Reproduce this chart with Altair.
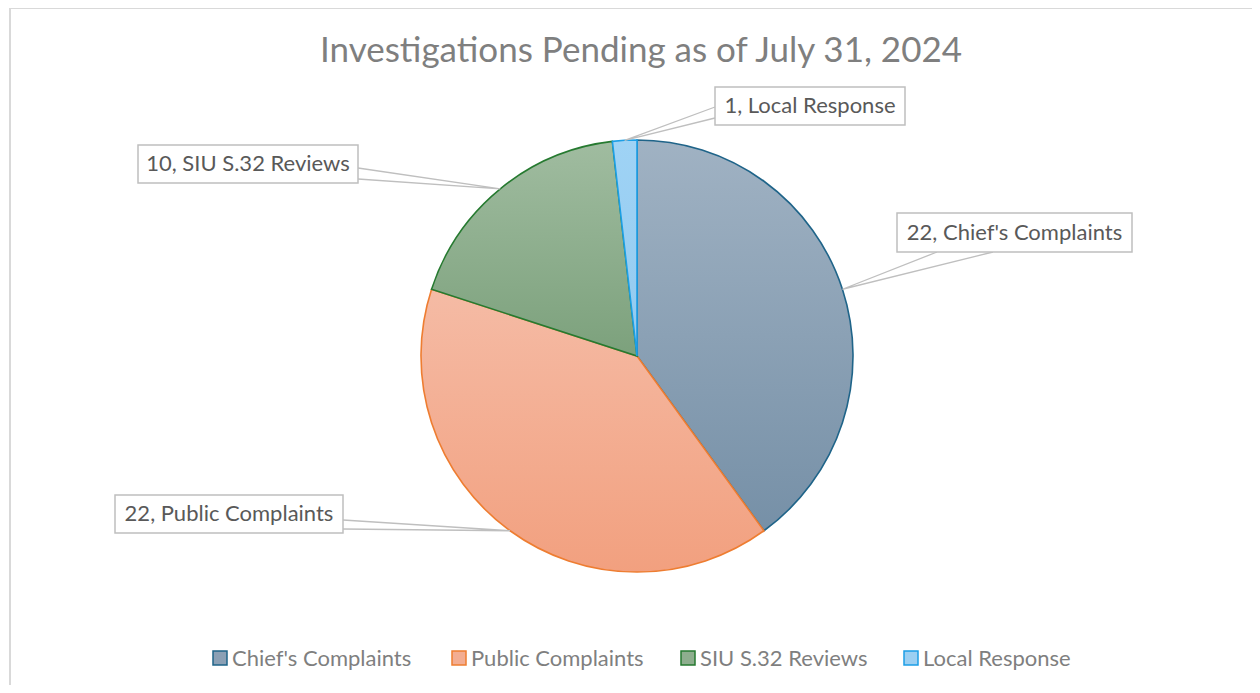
import math
import altair as alt
import pandas as pd

# ---------------- data ----------------
categories = ["Chief's Complaints", "Public Complaints", "SIU S.32 Reviews", "Local Response"]
values = [22, 22, 10, 1]
title_text = "Investigations Pending as of July 31, 2024"

# ---------------- styles / layout ----------------
W, H = 1244, 677            # chart size (page minus 8px margin)
CX, CY, R = 629, 348, 216   # pie centre / radius in chart pixels
FONT = "Lato"
grad_top = ["#a0b2c3", "#f5bba5", "#a0bca0", "#9fd3f5"]
grad_bot = ["#7690a7", "#f2a07f", "#7ca17c", "#93caef"]
strokes = ["#1f6489", "#ee7d31", "#267a30", "#1c9fe6"]
legend_fill = ["#8ba0b5", "#f3ad92", "#8eae8e", "#9bcff2"]

# label boxes (chart px): x0, x1, y0, y1
boxes = {
    "Chief's Complaints": (889, 1124, 205, 244),
    "Public Complaints": (107, 335, 487, 525),
    "SIU S.32 Reviews": (130, 350, 137, 175),
    "Local Response": (707, 897, 79, 117),
}
# tail attach points on the box (chart px), two per label
tails = {
    "Chief's Complaints": [(929, 244), (985, 244)],
    "Public Complaints": [(335, 512), (335, 521)],
    "SIU S.32 Reviews": [(350, 160), (350, 171)],
    "Local Response": [(707, 99), (707, 110)],
}

# ---------------- derived tables ----------------
total = sum(values)
starts, ends, acc = [], [], 0
for v in values:
    starts.append(acc)
    acc += v
    ends.append(acc)
pie_df = pd.DataFrame({"cat": categories, "value": values, "start": starts, "end": ends})

anchors = {}
for c, s, e in zip(categories, starts, ends):
    mid = (s + e) / 2 / total * 2 * math.pi
    anchors[c] = (CX + R * math.sin(mid), CY - R * math.cos(mid))

line_rows, box_rows, text_rows = [], [], []
for c, v in zip(categories, values):
    (a1, a2) = tails[c]
    ax, ay = anchors[c]
    for i, (px, py) in enumerate([a1, (ax, ay), a2]):
        line_rows.append({"cat": c, "o": i, "x": px, "y": py})
    x0, x1, y0, y1 = boxes[c]
    box_rows.append({"cat": c, "x0": x0, "x1": x1, "y0": y0, "y1": y1})
    text_rows.append({"cat": c, "label": f"{v}, {c}", "x": (x0 + x1) / 2, "y": (y0 + y1) / 2})
line_df = pd.DataFrame(line_rows)
box_df = pd.DataFrame(box_rows)
text_df = pd.DataFrame(text_rows)

legend_sq_x = [205, 444, 673, 896]
LEG_Y = 650
leg_df = pd.DataFrame({
    "cat": categories,
    "x0": legend_sq_x,
    "x1": [x + 14 for x in legend_sq_x],
    "tx": [x + 19 for x in legend_sq_x],
    "y0": [LEG_Y - 7] * 4,
    "y1": [LEG_Y + 7] * 4,
    "ty": [LEG_Y + 1] * 4,
})

xs = alt.Scale(domain=[0, W], range=[0, W], nice=False, zero=False)
ys = alt.Scale(domain=[0, H], range=[0, H], nice=False, zero=False)

# ---------------- layers ----------------
layers = []

border = pd.DataFrame({"x": [2, 2, W + 20], "y": [H + 20, 0, 0], "o": [0, 1, 2]})
layers.append(
    alt.Chart(border).mark_line(color="#d9d9d9", strokeWidth=2).encode(
        x=alt.X("x:Q", scale=xs, axis=None), y=alt.Y("y:Q", scale=ys, axis=None), order="o:Q"
    )
)

theta_scale = alt.Scale(domain=[0, total], range=[0, 2 * math.pi])
for i, c in enumerate(categories):
    grad = {
        "gradient": "linear",
        "x1": 0, "y1": 0, "x2": 0, "y2": 1,
        "stops": [{"offset": 0, "color": grad_top[i]}, {"offset": 1, "color": grad_bot[i]}],
    }
    layers.append(
        alt.Chart(pie_df).transform_filter(alt.datum.cat == c)
        .mark_arc(radius=R, color=grad, stroke=strokes[i], strokeWidth=1.6)
        .encode(
            theta=alt.Theta("start:Q", scale=theta_scale, stack=None),
            theta2="end:Q",
            x=alt.value(CX), y=alt.value(CY),
        )
    )

layers.append(
    alt.Chart(line_df).mark_line(color="#bfbfbf", strokeWidth=1.3).encode(
        x=alt.X("x:Q", scale=xs, axis=None), y=alt.Y("y:Q", scale=ys, axis=None),
        detail="cat:N", order="o:Q",
    )
)
layers.append(
    alt.Chart(box_df).mark_rect(fill="white", stroke="#bfbfbf", strokeWidth=1.5).encode(
        x=alt.X("x0:Q", scale=xs, axis=None), x2="x1:Q",
        y=alt.Y("y0:Q", scale=ys, axis=None), y2="y1:Q",
    )
)
layers.append(
    alt.Chart(text_df).mark_text(font=FONT, fontSize=22, color="#595959", align="center", baseline="middle").encode(
        x=alt.X("x:Q", scale=xs, axis=None), y=alt.Y("y:Q", scale=ys, axis=None), text="label:N"
    )
)

# title
title_df = pd.DataFrame({"t": [title_text], "x": [633], "y": [54]})
layers.append(
    alt.Chart(title_df).mark_text(font=FONT, fontSize=35, color="#7f7f7f", align="center", baseline="alphabetic").encode(
        x=alt.X("x:Q", scale=xs, axis=None), y=alt.Y("y:Q", scale=ys, axis=None), text="t:N"
    )
)

# legend
layers.append(
    alt.Chart(leg_df).mark_rect(strokeWidth=1.5).encode(
        x=alt.X("x0:Q", scale=xs, axis=None), x2="x1:Q",
        y=alt.Y("y0:Q", scale=ys, axis=None), y2="y1:Q",
        fill=alt.Fill("cat:N", scale=alt.Scale(domain=categories, range=legend_fill), legend=None),
        stroke=alt.Stroke("cat:N", scale=alt.Scale(domain=categories, range=strokes), legend=None),
    )
)
layers.append(
    alt.Chart(leg_df).mark_text(font=FONT, fontSize=22, color="#7f7f7f", align="left", baseline="middle").encode(
        x=alt.X("tx:Q", scale=xs, axis=None), y=alt.Y("ty:Q", scale=ys, axis=None), text="cat:N"
    )
)

chart = alt.layer(*layers).properties(
    width=W, height=H, autosize=alt.AutoSizeParams(type="none"), padding=0
).resolve_scale(fill="independent", stroke="independent").configure_view(stroke=None)

chart.save("out.html", embed_options={"renderer": "svg", "actions": False})
